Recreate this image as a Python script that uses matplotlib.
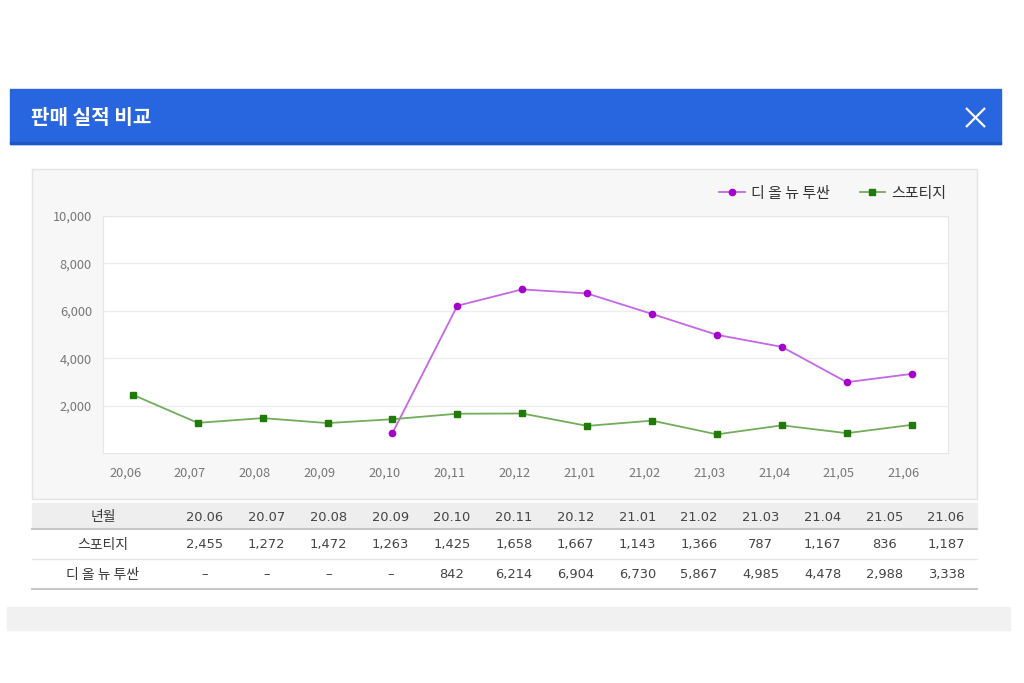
from matplotlib import pyplot as plt
from matplotlib.patches import Rectangle
from matplotlib.ticker import FuncFormatter
import numpy as np

plt.rcParams['font.family'] = ['Noto Sans CJK KR', 'DejaVu Sans']

# ---------------------------------------------------------------------------
# datos
meses = ["20.06", "20.07", "20.08", "20.09", "20.10", "20.11", "20.12",
         "21.01", "21.02", "21.03", "21.04", "21.05", "21.06"]
etiquetas_x = [m.replace(".", ",") for m in meses]
sportage = [2455, 1272, 1472, 1263, 1425, 1658, 1667, 1143, 1366, 787, 1167, 836, 1187]
tucson = [np.nan, np.nan, np.nan, np.nan, 842, 6214, 6904, 6730, 5867, 4985, 4478, 2988, 3338]
nombre_tucson = "디 올 뉴 투싼"
nombre_sportage = "스포티지"
titulo = "판매 실적 비교"
y_ticks = [2000, 4000, 6000, 8000, 10000]

W, H = 1024, 683
fig = plt.figure(figsize=(W / 100, H / 100), dpi=100)
fig.patch.set_facecolor("white")

# capa de fondo en pixeles
bg = fig.add_axes([0, 0, 1, 1], zorder=0)
bg.set_xlim(0, W)
bg.set_ylim(H, 0)
bg.axis("off")

# barra azul del titulo
bg.add_patch(Rectangle((10, 89), 991, 55, color="#2866e0"))
bg.add_patch(Rectangle((10, 142), 991, 2, color="#1f55c4"))
bg.text(31, 117, titulo, color="white", fontsize=14.5, fontweight="bold", va="center", ha="left")
bg.plot([966, 985], [108, 127], color="white", lw=1.6, solid_capstyle="butt")
bg.plot([966, 985], [127, 108], color="white", lw=1.6, solid_capstyle="butt")

# panel del grafico
bg.add_patch(Rectangle((32, 169), 945, 330, facecolor="#f7f7f7", edgecolor="#e3e3e3", lw=1))

# tabla
x0_tabla, x1_tabla = 32, 977
ancho_col1 = 142
ancho_col = (x1_tabla - x0_tabla - ancho_col1) / len(meses)
bg.add_patch(Rectangle((x0_tabla, 503), x1_tabla - x0_tabla, 25, color="#eeeeee"))
bg.plot([x0_tabla, x1_tabla], [528.5, 528.5], color="#c8c8c8", lw=1.5)
bg.plot([x0_tabla, x1_tabla], [558.5, 558.5], color="#e6e6e6", lw=1)
bg.plot([x0_tabla, x1_tabla], [589, 589], color="#c8c8c8", lw=1.5)

filas = [("년월", meses, 516),
         (nombre_sportage, [f"{v:,}" for v in sportage], 543),
         (nombre_tucson, ["–" if np.isnan(v) else f"{int(v):,}" for v in tucson], 573)]
for nombre, valores, yy in filas:
    bg.text(x0_tabla + ancho_col1 / 2, yy, nombre, fontsize=10, color="#3a3a3a", ha="center", va="center_baseline")
    for i, v in enumerate(valores):
        xx = x0_tabla + ancho_col1 + ancho_col * (i + 0.5)
        bg.text(xx, yy + 5, v, fontsize=9.4, color="#444444", ha="center", va="baseline",
                family="DejaVu Sans")

# franja gris inferior
bg.add_patch(Rectangle((7, 607), 1003, 23, color="#f1f1f1"))

# grafico de lineas
ax = fig.add_axes([103 / W, (H - 453) / H, 845 / W, 237 / H], zorder=1)
ax.set_facecolor("white")
x = np.arange(len(meses))
ax.plot(x, tucson, color="#c567e6", lw=1.3, marker="o", ms=4.5,
        markerfacecolor="#a300cc", markeredgecolor="#a300cc", label=nombre_tucson)
ax.plot(x, sportage, color="#72ad5c", lw=1.3, marker="s", ms=4.5,
        markerfacecolor="#1f7a08", markeredgecolor="#1f7a08", label=nombre_sportage)

ax.set_xlim(-0.46, 12.56)
ax.set_ylim(0, 10000)
ax.set_yticks(y_ticks)
ax.yaxis.set_major_formatter(FuncFormatter(lambda v, p: f"{int(v):,}"))
ax.set_xticks(x - 0.12)
ax.set_xticklabels(etiquetas_x)
ax.tick_params(length=0, labelsize=9.2, colors="#777777", pad=10)
ax.tick_params(axis="y", pad=8)
ax.grid(axis="y", color="#eeeeee", lw=1)
ax.set_axisbelow(True)
for s in ax.spines.values():
    s.set_color("#e6e6e6")

leg = ax.legend(loc="lower right", bbox_to_anchor=(1.005, 1.04), ncol=2, frameon=False,
                fontsize=10.8, handlelength=1.7, columnspacing=2.0, handletextpad=0.4,
                borderaxespad=0)
for t in leg.get_texts():
    t.set_color("#333333")

plt.savefig("out.png", dpi=100)
